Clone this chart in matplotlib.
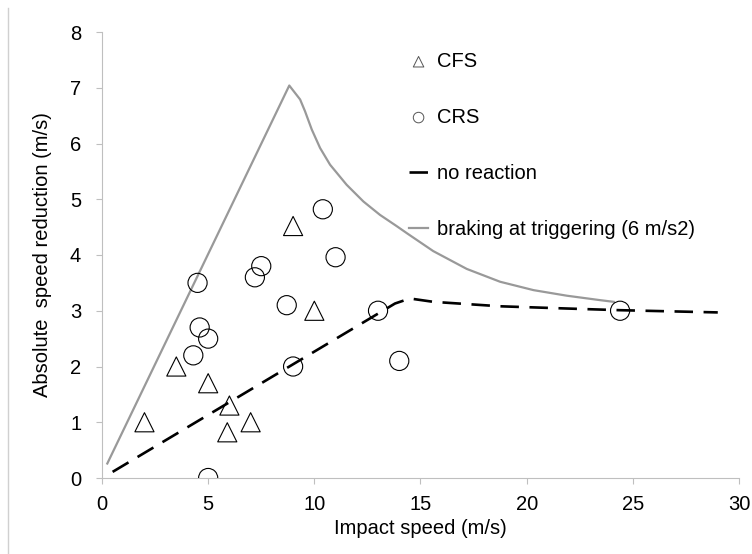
import matplotlib
matplotlib.use("Agg")
import matplotlib.pyplot as plt
from matplotlib.lines import Line2D

plt.rcParams['font.family'] = ['Liberation Sans', 'DejaVu Sans']

# CFS data (triangles)
cfs_x = [2.0, 3.5, 5.0, 6.0, 5.9, 7.0, 9.0, 10.0]
cfs_y = [1.0, 2.0, 1.7, 1.3, 0.82, 1.0, 4.52, 3.0]

# CRS data (circles)
crs_x = [4.5, 4.6, 5.0, 4.3, 5.0, 7.2, 7.5, 8.7, 9.0, 10.4, 11.0, 13.0, 14.0, 24.4]
crs_y = [3.5, 2.7, 2.5, 2.2, 0.0, 3.6, 3.8, 3.1, 2.0, 4.82, 3.96, 3.0, 2.1, 3.0]

# no reaction curve
nr_x = [0.5, 13.8, 14.5, 15.6, 18.75, 21.9, 24.4, 29.0]
nr_y = [0.11, 3.13, 3.22, 3.16, 3.08, 3.04, 3.01, 2.97]

# braking at triggering curve
br_x = [0.25, 8.82, 9.33, 9.56, 9.88, 10.27, 10.74, 11.52, 12.31, 13.09, 13.87,
        14.4, 15.6, 17.18, 18.75, 20.32, 21.89, 23.46, 24.1]
br_y = [0.26, 7.04, 6.79, 6.58, 6.25, 5.92, 5.62, 5.26, 4.96, 4.72, 4.52,
        4.38, 4.07, 3.75, 3.52, 3.37, 3.27, 3.19, 3.16]

x_ticks = [0, 5, 10, 15, 20, 25, 30]
y_ticks = [0, 1, 2, 3, 4, 5, 6, 7, 8]

FS = 14.5
fig = plt.figure(figsize=(7.52, 5.54), dpi=100)
ax = fig.add_axes([102/752, 1-478/554, (739-102)/752, (478-32)/554])

axis_gray = '#bfbfbf'
ax.plot(br_x, br_y, color='#999999', lw=1.6, label='braking at triggering (6 m/s2)',
        zorder=2, solid_joinstyle='round')
ax.plot(nr_x, nr_y, color='black', lw=1.9, dashes=(7, 4), label='no reaction', zorder=2)
ax.scatter(cfs_x, cfs_y, marker='^', s=190, facecolors='none', edgecolors='black',
           linewidths=0.8, label='CFS', zorder=3)
ax.scatter(crs_x, crs_y, marker='o', s=190, facecolors='none', edgecolors='black',
           linewidths=0.8, label='CRS', zorder=3)

ax.set_xlim(0, 30)
ax.set_ylim(0, 8)
ax.set_xticks(x_ticks)
ax.set_yticks(y_ticks)
ax.tick_params(axis='both', labelsize=FS, color=axis_gray, length=4.5, width=0.8)
ax.tick_params(axis='y', pad=10.5)
ax.tick_params(axis='x', pad=8)
for s in ['top', 'right']:
    ax.spines[s].set_visible(False)
for s in ['left', 'bottom']:
    ax.spines[s].set_color(axis_gray)
    ax.spines[s].set_linewidth(0.8)

ax.set_xlabel('Impact speed (m/s)', fontsize=FS, labelpad=3)
ax.set_ylabel('Absolute  speed reduction (m/s)', fontsize=FS, labelpad=13)

handles, labels = ax.get_legend_handles_labels()
order = [labels.index(l) for l in ['CFS', 'CRS', 'no reaction', 'braking at triggering (6 m/s2)']]
leg = ax.legend([handles[i] for i in order], [labels[i] for i in order],
                loc='upper left', bbox_to_anchor=(409/752, 1-52/554),
                bbox_transform=fig.transFigure, frameon=False, fontsize=FS,
                handlelength=0.95, handletextpad=0.45, labelspacing=1.83,
                borderpad=0, borderaxespad=0, markerscale=0.55)
for h in leg.legend_handles:
    try:
        h.set_edgecolor('#555555')
        h.set_linewidth(0.7)
    except Exception:
        pass

fig.add_artist(Line2D([8/752, 8/752], [0, 1-8/554], transform=fig.transFigure,
                      color='#d0d0d0', lw=1.0))

fig.savefig('out.png', dpi=100)
